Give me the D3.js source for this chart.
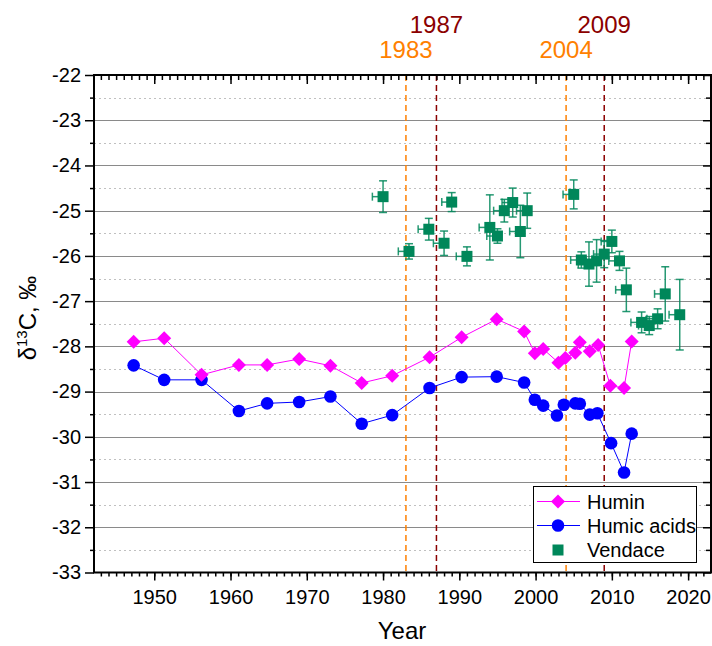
<!DOCTYPE html>
<html>
<head>
<meta charset="utf-8">
<script src="https://cdn.jsdelivr.net/npm/d3@7"></script>
<style>
  html, body { margin: 0; padding: 0; background: #fff; }
  svg { display: block; font-family: Arial, "Liberation Sans", sans-serif; }
</style>
</head>
<body>
<svg id="chart" width="712" height="646"></svg>
<script>
// Humin δ13C by year
const huminYears = [1947.3, 1951.3, 1956.2, 1961.1, 1964.8, 1969.0, 1973.1, 1977.2, 1981.2, 1986.1, 1990.3, 1994.9, 1998.5, 1999.9, 2001.0, 2003.0, 2003.9, 2005.2, 2005.8, 2007.1, 2008.2, 2009.8, 2011.6, 2012.6];
const huminValues = [-27.90, -27.82, -28.63, -28.41, -28.41, -28.28, -28.43, -28.81, -28.65, -28.24, -27.80, -27.40, -27.67, -28.15, -28.06, -28.36, -28.26, -28.14, -27.91, -28.11, -27.97, -28.87, -28.92, -27.89];

// Humic acids δ13C by year
const humicYears = [1947.3, 1951.3, 1956.2, 1961.1, 1964.8, 1969.0, 1973.1, 1977.2, 1981.2, 1986.1, 1990.3, 1994.9, 1998.5, 1999.9, 2001.0, 2002.8, 2003.7, 2005.2, 2005.8, 2007.1, 2008.1, 2009.9, 2011.6, 2012.6];
const humicValues = [-28.42, -28.74, -28.74, -29.43, -29.26, -29.23, -29.11, -29.71, -29.52, -28.92, -28.68, -28.67, -28.80, -29.18, -29.31, -29.53, -29.29, -29.26, -29.27, -29.51, -29.48, -30.14, -30.79, -29.93];

// Vendace δ13C with ±SD and year-class spread (backwards in time)
const vendaceYears = [1980.0, 1983.4, 1986.0, 1988.0, 1989.0, 1991.0, 1994.0, 1995.0, 1995.9, 1997.0, 1998.0, 1998.9, 2005.0, 2006.0, 2007.0, 2008.0, 2009.0, 2010.0, 2011.0, 2011.9, 2013.9, 2014.9, 2016.0, 2017.0, 2018.9];
const vendaceValues = [-24.69, -25.90, -25.41, -25.72, -24.81, -26.01, -25.37, -25.56, -25.00, -24.82, -25.46, -25.00, -24.64, -26.09, -26.18, -26.11, -25.96, -25.68, -26.11, -26.75, -27.47, -27.54, -27.39, -26.84, -27.30];
const vendaceErrY = [0.35, 0.17, 0.24, 0.27, 0.21, 0.21, 0.72, 0.16, 0.25, 0.32, 0.58, 0.39, 0.32, 0.18, 0.49, 0.47, 0.30, 0.25, 0.21, 0.48, 0.23, 0.20, 0.22, 0.60, 0.78];
const vendaceErrX = [1.4, 1.4, 1.4, 1.4, 1.3, 1.4, 1.4, 1.4, 1.4, 1.4, 1.4, 1.4, 1.4, 1.4, 1.4, 1.4, 1.4, 1.4, 1.4, 1.4, 1.4, 1.4, 1.4, 1.4, 1.4];

// Marked years
const markerYears = [1983, 1987, 2004, 2009];
const markerColors = ["#ff8000", "#8b0000", "#ff8000", "#8b0000"];
const markerLabelRow = [1, 0, 1, 0];

// Axis ticks
const xTickValues = [1950, 1960, 1970, 1980, 1990, 2000, 2010, 2020];
const yTickValues = [-22, -23, -24, -25, -26, -27, -28, -29, -30, -31, -32, -33];

const legendLabels = ["Humin", "Humic acids", "Vendace"];

const colHumin = "#ff00ff";
const colHumic = "#0000ff";
const colVend = "#00875a";

const svg = d3.select("#chart");
const pLeft = 94, pRight = 711, pTop = 75, pBottom = 572.5;

const x = d3.scaleLinear().domain([1942.1, 2023]).range([pLeft, pRight]);
const y = d3.scaleLinear().domain([-33, -22]).range([pBottom, pTop]);

// grid
const grid = svg.append("g");
const minorY = d3.range(-32.5, -22, 1);
grid.selectAll("line.minor").data(minorY).join("line")
  .attr("x1", pLeft).attr("x2", pRight)
  .attr("y1", d => Math.round(y(d)) + 0.5).attr("y2", d => Math.round(y(d)) + 0.5)
  .attr("stroke", "#c0c0c0").attr("stroke-width", 1).attr("stroke-dasharray", "2,3");
grid.selectAll("line.major").data(d3.range(-32, -22, 1)).join("line")
  .attr("x1", pLeft).attr("x2", pRight)
  .attr("y1", d => Math.round(y(d)) + 0.5).attr("y2", d => Math.round(y(d)) + 0.5)
  .attr("stroke", "#8a8a8a").attr("stroke-width", 1);

// marked-year dashed lines
svg.append("g").selectAll("line").data(markerYears).join("line")
  .attr("x1", d => x(d)).attr("x2", d => x(d))
  .attr("y1", pTop).attr("y2", pBottom)
  .attr("stroke", (d, i) => markerColors[i]).attr("stroke-width", 1.5)
  .attr("stroke-dasharray", "6,4");

svg.append("g").selectAll("text").data(markerYears).join("text")
  .attr("x", d => x(d)).attr("y", (d, i) => markerLabelRow[i] === 0 ? 33 : 58)
  .attr("text-anchor", "middle").attr("font-size", 24)
  .attr("fill", (d, i) => markerColors[i]).text(d => d);

// axes
const minorYears = d3.range(1943, 2023, 1);
function styleAxis(g) {
  g.select(".domain").remove();
  g.selectAll("line").attr("stroke", "#000").attr("stroke-width", 1.5);
  g.selectAll("text").attr("font-size", 20).attr("fill", "#000");
}
// bottom minor + major
svg.append("g").attr("transform", `translate(0,${pBottom})`)
  .call(d3.axisBottom(x).tickValues(minorYears).tickSize(4).tickFormat(""))
  .call(styleAxis);
svg.append("g").attr("transform", `translate(0,${pBottom})`)
  .call(d3.axisBottom(x).tickValues(xTickValues).tickSize(8).tickPadding(9).tickFormat(d3.format("d")))
  .call(styleAxis);
// top inward
svg.append("g").attr("transform", `translate(0,${pTop})`)
  .call(d3.axisBottom(x).tickValues(minorYears).tickSize(5).tickFormat(""))
  .call(styleAxis);
svg.append("g").attr("transform", `translate(0,${pTop})`)
  .call(d3.axisBottom(x).tickValues(xTickValues).tickSize(9).tickFormat(""))
  .call(styleAxis);
// left outward
svg.append("g").attr("transform", `translate(${pLeft},0)`)
  .call(d3.axisLeft(y).tickValues(minorY).tickSize(4).tickFormat(""))
  .call(styleAxis);
svg.append("g").attr("transform", `translate(${pLeft},0)`)
  .call(d3.axisLeft(y).tickValues(yTickValues).tickSize(9).tickPadding(4).tickFormat(d => String(d).replace("\u2212", "-")))
  .call(styleAxis);
// right inward
svg.append("g").attr("transform", `translate(${pRight},0)`)
  .call(d3.axisRight(y).tickValues(minorY).tickSize(-5).tickFormat(""))
  .call(styleAxis);
svg.append("g").attr("transform", `translate(${pRight},0)`)
  .call(d3.axisRight(y).tickValues(yTickValues).tickSize(-8).tickFormat(""))
  .call(styleAxis);

// frame
svg.append("rect").attr("x", pLeft).attr("y", pTop)
  .attr("width", pRight - pLeft).attr("height", pBottom - pTop)
  .attr("fill", "none").attr("stroke", "#000").attr("stroke-width", 2);

// axis titles
svg.append("text").attr("x", 402).attr("y", 639)
  .attr("text-anchor", "middle").attr("font-size", 24).text("Year");
const yt = svg.append("text").attr("transform", "translate(36,318) rotate(-90)")
  .attr("text-anchor", "middle").attr("font-size", 24);
yt.append("tspan").text("\u03B4");
yt.append("tspan").attr("font-size", 15).attr("dy", -9).text("13");
yt.append("tspan").attr("dy", 9).text("C, \u2030");

// series
const diamond = (r) => `M0,${-r}L${r},0L0,${r}L${-r},0Z`;

const humin = huminYears.map((yr, i) => ({ yr, v: huminValues[i] }));
const humic = humicYears.map((yr, i) => ({ yr, v: humicValues[i] }));
const vend = vendaceYears.map((yr, i) => ({ yr, v: vendaceValues[i], ey: vendaceErrY[i], ex: vendaceErrX[i] }));

const line = d3.line().x(d => x(d.yr)).y(d => y(d.v));

// vendace error bars and markers
const vg = svg.append("g");
const cap = 4;
vend.forEach(d => {
  const cx = x(d.yr), cy = y(d.v);
  const y1 = y(d.v + d.ey), y2 = y(d.v - d.ey), x1 = x(d.yr - d.ex);
  const eb = vg.append("g").attr("stroke", colVend).attr("stroke-width", 1.5).attr("stroke-opacity", 0.85);
  eb.append("line").attr("x1", cx).attr("x2", cx).attr("y1", y1).attr("y2", y2);
  eb.append("line").attr("x1", cx - cap).attr("x2", cx + cap).attr("y1", y1).attr("y2", y1);
  eb.append("line").attr("x1", cx - cap).attr("x2", cx + cap).attr("y1", y2).attr("y2", y2);
  eb.append("line").attr("x1", x1).attr("x2", cx).attr("y1", cy).attr("y2", cy);
  eb.append("line").attr("x1", x1).attr("x2", x1).attr("y1", cy - cap).attr("y2", cy + cap);
});
vg.selectAll("rect").data(vend).join("rect")
  .attr("x", d => x(d.yr) - 5.5).attr("y", d => y(d.v) - 5.5)
  .attr("width", 11).attr("height", 11).attr("fill", colVend);

// humic acids
svg.append("path").datum(humic).attr("d", line)
  .attr("fill", "none").attr("stroke", colHumic).attr("stroke-width", 1);
svg.append("g").selectAll("circle").data(humic).join("circle")
  .attr("cx", d => x(d.yr)).attr("cy", d => y(d.v)).attr("r", 6.3).attr("fill", colHumic);

// humin
svg.append("path").datum(humin).attr("d", line)
  .attr("fill", "none").attr("stroke", colHumin).attr("stroke-width", 1);
svg.append("g").selectAll("path").data(humin).join("path")
  .attr("transform", d => `translate(${x(d.yr)},${y(d.v)})`)
  .attr("d", diamond(7)).attr("fill", colHumin);

// legend
const lg = svg.append("g");
lg.append("rect").attr("x", 533.5).attr("y", 486.5).attr("width", 163).attr("height", 76)
  .attr("fill", "#fff").attr("stroke", "#000").attr("stroke-width", 1);
const rows = [501.5, 525.5, 550];
lg.append("line").attr("x1", 537).attr("x2", 580).attr("y1", rows[0]).attr("y2", rows[0]).attr("stroke", colHumin);
lg.append("path").attr("transform", `translate(558,${rows[0]})`).attr("d", diamond(7)).attr("fill", colHumin);
lg.append("line").attr("x1", 537).attr("x2", 580).attr("y1", rows[1]).attr("y2", rows[1]).attr("stroke", colHumic);
lg.append("circle").attr("cx", 558).attr("cy", rows[1]).attr("r", 6.3).attr("fill", colHumic);
lg.append("rect").attr("x", 552.5).attr("y", rows[2] - 5.5).attr("width", 11).attr("height", 11).attr("fill", colVend);
lg.selectAll("text").data(legendLabels).join("text")
  .attr("x", 587).attr("y", (d, i) => rows[i] + 7).attr("font-size", 20).text(d => d);
</script>
</body>
</html>
